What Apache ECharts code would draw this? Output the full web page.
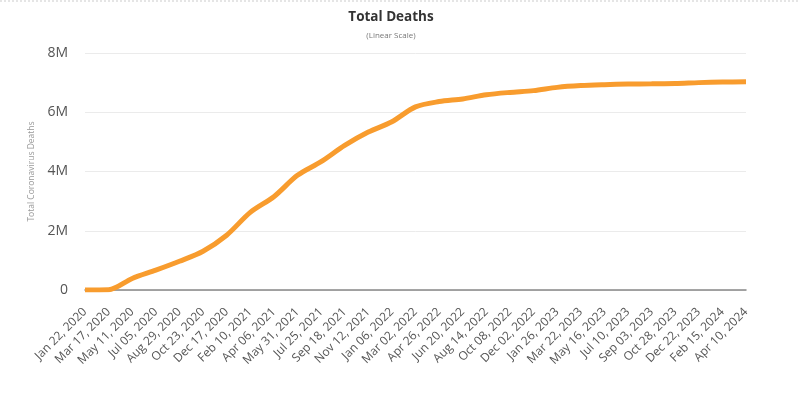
<!DOCTYPE html>
<html>
<head>
<meta charset="utf-8">
<script src="https://cdn.jsdelivr.net/npm/echarts@6/dist/echarts.min.js"></script>
<style>html,body{margin:0;padding:0;background:#fff}#c{width:800px;height:395px}</style>
</head>
<body>
<div id="c"></div>
<script>
const categories = ["Jan 22, 2020","Mar 17, 2020","May 11, 2020","Jul 05, 2020","Aug 29, 2020","Oct 23, 2020","Dec 17, 2020","Feb 10, 2021","Apr 06, 2021","May 31, 2021","Jul 25, 2021","Sep 18, 2021","Nov 12, 2021","Jan 06, 2022","Mar 02, 2022","Apr 26, 2022","Jun 20, 2022","Aug 14, 2022","Oct 08, 2022","Dec 02, 2022","Jan 26, 2023","Mar 22, 2023","May 16, 2023","Jul 10, 2023","Sep 03, 2023","Oct 28, 2023","Dec 22, 2023","Feb 15, 2024","Apr 10, 2024"];
const totalDeaths = [17, 8000, 390000, 670000, 970000, 1310000, 1850000, 2620000, 3150000, 3870000, 4330000, 4880000, 5330000, 5680000, 6180000, 6360000, 6450000, 6590000, 6670000, 6730000, 6840000, 6900000, 6930000, 6950000, 6960000, 6970000, 7000000, 7020000, 7030000];
const yTicks = [0, 2000000, 4000000, 6000000, 8000000];

const chart = echarts.init(document.getElementById('c'), null, {renderer: 'canvas'});
const font = '"Open Sans", "Noto Sans", sans-serif';
chart.setOption({
  animation: false,
  textStyle: {fontFamily: font},
  title: [{
    text: 'Total Deaths', left: 386, textAlign: 'center', top: 5,
    textStyle: {fontSize: 13.5, fontWeight: 'bold', color: '#333', fontFamily: font}
  }, {
    text: '(Linear Scale)', left: 386, textAlign: 'center', top: 27,
    textStyle: {fontSize: 8, fontWeight: 'normal', color: '#777', fontFamily: font}
  }],
  graphic: [{
    type: 'line', shape: {x1: 0, y1: 1, x2: 800, y2: 1},
    style: {stroke: '#ccc', lineWidth: 1, lineDash: [2, 2]}
  }],
  grid: {left: 85, right: 54, top: 53, bottom: 105},
  xAxis: {
    type: 'category', data: categories, boundaryGap: false,
    axisLine: {lineStyle: {color: '#888', width: 1.5}},
    axisTick: {show: false},
    axisLabel: {interval: 0, rotate: 45, fontSize: 12, color: '#555', margin: 20, fontFamily: font}
  },
  yAxis: {
    type: 'value', min: yTicks[0], max: yTicks[yTicks.length - 1], interval: 2000000,
    name: 'Total Coronavirus Deaths', nameLocation: 'middle', nameGap: 46,
    nameTextStyle: {fontSize: 8.5, color: '#999', fontFamily: font},
    axisLine: {show: false}, axisTick: {show: false},
    axisLabel: {fontSize: 14, color: '#555', margin: 17, fontFamily: font,
      formatter: v => v === 0 ? '0' : (v / 1000000) + 'M'},
    splitLine: {lineStyle: {color: '#ebebeb', width: 1}}
  },
  series: [{
    type: 'line', data: totalDeaths, smooth: 0.3, showSymbol: false,
    lineStyle: {color: '#f89c2e', width: 5}, itemStyle: {color: '#f89c2e'}
  }]
});
</script>
</body>
</html>
